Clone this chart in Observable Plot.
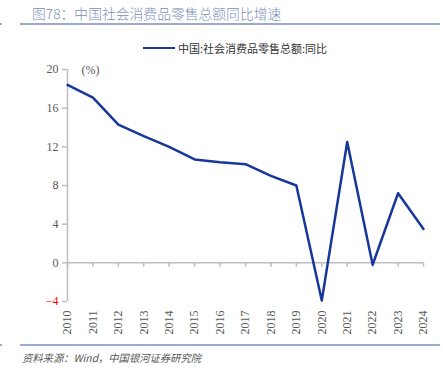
<!DOCTYPE html>
<html><head><meta charset="utf-8">
<script src="https://cdn.jsdelivr.net/npm/d3@7"></script>
<script src="https://cdn.jsdelivr.net/npm/@observablehq/plot@0.6"></script>
<style>
body{margin:0;background:#fff;}
#wrap{position:relative;width:443px;height:372px;overflow:hidden;font-family:"Noto Sans CJK SC","Noto Sans",sans-serif;}
#title{position:absolute;left:32px;top:3px;font-size:13.8px;font-weight:300;color:#7b8fb7;white-space:nowrap;}
#tline{position:absolute;left:20px;top:23px;width:420px;height:2px;background:#9aabcd;}
#tmark{position:absolute;left:0px;top:23px;width:2px;height:2px;background:#9aabcd;}
#legend{position:absolute;left:143px;top:40px;font-size:11px;color:#333;white-space:nowrap;display:flex;align-items:center;}
#legend span.sw{display:inline-block;width:32px;height:2.5px;background:#17389a;margin-right:3px;}
#chart{position:absolute;left:0;top:60px;}
#cline{position:absolute;left:20px;top:344px;width:420px;height:2px;background:#9aabcd;}
#cmark{position:absolute;left:0px;top:344px;width:2px;height:2px;background:#9aabcd;}
#caption{position:absolute;left:22px;top:350px;font-size:10.3px;color:#555;font-style:italic;white-space:nowrap;}
</style></head>
<body>
<div id="wrap">
  <div id="title"></div>
  <div id="tmark"></div><div id="tline"></div>
  <div id="legend"><span class="sw"></span><span id="legtext"></span></div>
  <div id="chart"></div>
  <div id="cmark"></div><div id="cline"></div>
  <div id="caption"></div>
</div>
<script>
const titleText = "图78：中国社会消费品零售总额同比增速";
const seriesName = "中国:社会消费品零售总额:同比";
const captionText = "资料来源：Wind，中国银河证券研究院";
const unitLabel = "(%)";
const years = [2010,2011,2012,2013,2014,2015,2016,2017,2018,2019,2020,2021,2022,2023,2024];
const growth = [18.4,17.1,14.3,13.1,12.0,10.7,10.4,10.2,9.0,8.0,-3.9,12.5,-0.2,7.2,3.5];
const yTicksPos = [0,4,8,12,16,20];
const yTicksNeg = [-4];

document.getElementById("title").textContent = titleText;
document.getElementById("legtext").textContent = seriesName;
document.getElementById("caption").textContent = captionText;

const data = years.map((y,i)=>({year:y, value:growth[i]}));
const axisColor = "#bdbdbd";
const textColor = "#595959";
const serif = "'Liberation Serif','DejaVu Serif',serif";

const chart = Plot.plot({
  width: 443, height: 282,
  marginLeft: 67, marginRight: 20, marginTop: 9, marginBottom: 41,
  style: {fontFamily: serif, fontSize: "12px", background: "transparent", overflow: "visible"},
  x: {type: "linear", domain: [years[0], years[years.length-1]]},
  y: {domain: [-4, 20]},
  marks: [
    Plot.ruleY([0], {stroke: axisColor, strokeWidth: 1.5}),
    Plot.ruleX(years, {x: d=>d, y1: 0, y2: -0.45, stroke: axisColor, strokeWidth: 1.5}),
    Plot.ruleX([years[0]], {y1: -4, y2: 20, stroke: axisColor, strokeWidth: 1.5}),
    Plot.axisY({ticks: yTicksPos, tickSize: 5, tickPadding: 4, stroke: axisColor, strokeWidth: 1.5, fill: textColor, label: null, fontFamily: serif, fontSize: 12}),
    Plot.axisY({ticks: yTicksNeg, tickSize: 5, tickPadding: 4, stroke: axisColor, strokeWidth: 1.5, fill: "#ff0000", label: null, fontFamily: serif, fontSize: 12}),
    Plot.axisX({ticks: years, tickSize: 0, tickPadding: 9, tickRotate: -90, tickFormat: d=>String(d), fill: textColor, label: null, fontFamily: serif, fontSize: 12}),
    Plot.text([unitLabel], {frameAnchor: "top-left", dx: 23, dy: -4, fill: textColor, fontFamily: serif, fontSize: 12, textAnchor: "middle"}),
    Plot.line(data, {x: "year", y: "value", stroke: "#17389a", strokeWidth: 2.5})
  ]
});
document.getElementById("chart").appendChild(chart);
</script>
</body></html>
